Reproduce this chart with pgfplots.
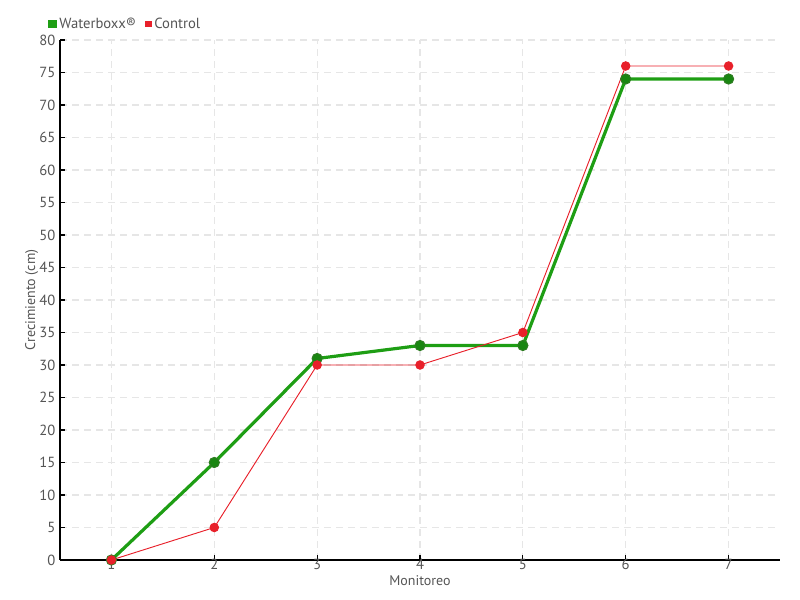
\documentclass[border=0pt]{standalone}
\usepackage{fontspec}
\setmainfont{PT Sans}
\usepackage{pgfplots}
\pgfplotsset{compat=1.18}
\definecolor{wgreen}{HTML}{1E9E14}
\definecolor{wgreendark}{HTML}{2E7D22}
\definecolor{cred}{HTML}{E8202A}
\definecolor{txt}{HTML}{555555}
\definecolor{gridc}{HTML}{E6E6E6}
\begin{document}
\begin{tikzpicture}
\begin{axis}[
  scale only axis,
  width=540pt, height=390pt,
  xmin=0.5, xmax=7.5, ymin=0, ymax=80,
  xtick={1,...,7}, ytick={0,5,...,80},
  axis x line*=bottom, axis y line*=left,
  axis line style={black, line width=0.9pt, -},
  tick style={black, line width=0.8pt},
  major tick length=4pt,
  grid=major,
  major grid style={gridc, dashed, line width=0.8pt, dash pattern=on 5pt off 4pt},
  tick label style={font=\fontsize{11}{12}\selectfont, text=txt},
  /pgf/number format/assume math mode=true,
  xlabel={Monitoreo}, ylabel={Crecimiento (cm)},
  label style={font=\fontsize{10.5}{12}\selectfont, text=txt},
  xlabel style={at={(axis description cs:0.5,0)}, anchor=north, yshift=-11.8pt, inner sep=0pt},
  ylabel style={yshift=-6pt},
  xticklabel style={yshift=2pt, inner sep=1pt},
  legend style={at={(rel axis cs:0,1)}, anchor=south west, xshift=-12pt, yshift=3pt,
    draw=none, fill=none, legend columns=2, font=\fontsize{11}{12}\selectfont, text=txt,
    /tikz/every even column/.append style={column sep=5pt}},
  legend image code/.code={\fill[#1] (0.5pt,-2pt) rectangle (4.5pt,2pt);},
]
\addplot[wgreen, line width=2.4pt, mark=*, mark size=3.8pt,
  mark options={fill=wgreen!85!black, draw=wgreendark, line width=0.8pt}]
  coordinates {(1,0) (2,15) (3,31) (4,33) (5,33) (6,74) (7,74)};
\addlegendentry{Waterboxx®}
\addplot[cred, line width=0.7pt, mark=*, mark size=3.2pt,
  mark options={fill=cred, draw=cred}]
  coordinates {(1,0) (2,5) (3,30) (4,30) (5,35) (6,76) (7,76)};
\addlegendentry{Control}
\end{axis}
\path ([shift={(-45pt,-30pt)}]current axis.south west) rectangle ([shift={(15pt,30pt)}]current axis.north east);
\end{tikzpicture}
\end{document}
